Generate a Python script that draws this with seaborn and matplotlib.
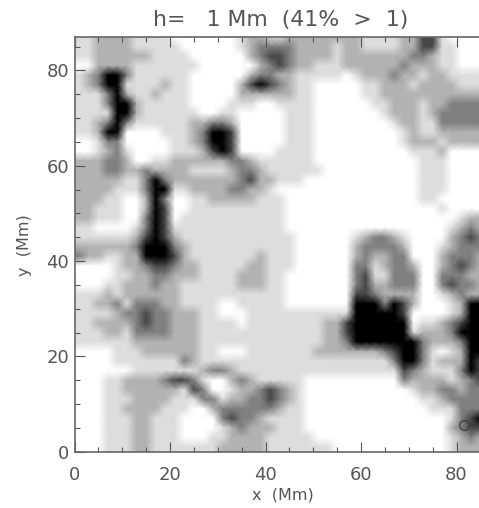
import numpy as np
import seaborn as sns
import matplotlib.pyplot as plt
from matplotlib.colors import ListedColormap

# contour level per 2 Mm cell, top row first (y=86)
level_rows = [
    "11222 21111 00000 00122 11222 22222 11112 24410 000",
    "11222 21111 10000 00123 33322 22122 11112 24411 000",
    "11222 22211 11000 00023 44322 22122 22222 33211 000",
    "00222 21111 11100 00002 34322 11122 22223 22211 000",
    "12355 31111 11000 00023 32211 11101 22232 21221 111",
    "12355 11112 11000 00245 43211 00000 11222 12222 111",
    "11135 21121 11000 00222 22211 00000 11222 22222 222",
    "11135 52111 11000 01110 01111 00000 01122 21223 333",
    "11115 52111 11100 11000 00111 00000 00122 21233 333",
    "11235 31111 11223 32000 00111 00000 00012 21133 333",
    "11255 00001 11235 54000 00111 00000 00001 21122 222",
    "00133 00000 11235 54000 00111 00000 00001 22212 222",
    "00123 10000 11124 54000 01111 00000 00000 11120 000",
    "22233 20011 22222 23321 11111 00000 00000 01110 000",
    "22233 22322 22111 12332 11111 10000 00000 01110 000",
    "22222 11353 22222 22342 21110 00000 00000 01110 000",
    "22221 11355 11222 23322 10000 00000 00000 01110 000",
    "22211 00253 00112 22221 11000 00000 00000 01100 000",
    "22111 00254 00111 11111 11000 00000 00000 00010 000",
    "22111 00354 01111 11111 11000 00000 00000 00000 122",
    "11000 01354 11111 11111 11000 00000 00000 00001 232",
    "11111 12454 21111 11111 11100 00001 23321 00002 343",
    "22222 23555 32111 11111 11100 00002 33332 00012 333",
    "32211 22555 42111 11112 11100 00002 32233 00023 332",
    "00001 22344 32211 11122 11100 00003 31233 20023 432",
    "00001 12233 22211 11222 11000 00003 41133 30033 322",
    "00011 22232 21111 11222 11000 00003 42233 30034 332",
    "11121 22222 21111 11111 11000 00004 43222 20012 322",
    "11223 13332 21111 00111 11000 00005 55354 20001 255",
    "11112 33433 22211 00011 11111 11115 55554 00001 255",
    "11222 23433 22211 11011 11111 12245 55555 01123 455",
    "11122 13333 22211 11111 11111 12245 55555 12223 555",
    "11111 12222 22211 11111 11111 12235 55555 53222 355",
    "00001 11222 22211 00011 11111 22222 22345 53101 255",
    "00001 11111 13211 11111 11111 11111 11135 53122 254",
    "00000 01111 11123 32111 11111 11111 11114 32111 354",
    "00011 22223 44310 02321 11110 00000 00003 22221 234",
    "00011 22222 21430 01223 43210 00000 00000 12233 233",
    "00011 12222 11133 12233 43210 00000 00000 01123 333",
    "00011 22221 11002 33333 32110 00000 00000 00111 333",
    "00011 12211 10000 34332 11110 00000 00000 00001 345",
    "00011 12211 10000 12322 21110 00000 00000 00002 344",
    "00011 12211 10001 12222 11111 00000 00000 00001 232",
    "00011 12211 11111 22222 11111 11000 00000 00001 222",
]
level_colors = ["#ffffff", "#dddddd", "#b2b2b2", "#808080", "#474747", "#000000"]
x_major = [0, 20, 40, 60, 80]
y_major = [0, 20, 40, 60, 80]
x_minor = [5, 10, 15, 25, 30, 35, 45, 50, 55, 65, 70, 75]
y_minor = [5, 10, 15, 25, 30, 35, 45, 50, 55, 65, 70, 75, 85]
circle_x = [81.6]
circle_y = [5.7]

text_color = "#555555"
plt.rcParams["font.family"] = ["DejaVu Sans"]

levels = np.array([[int(c) for c in row.replace(" ", "")] for row in level_rows])
levels = np.pad(levels, 1, mode="edge")


# cell centres sit on the mesh vertices with gouraud shading
def to_col(x):
    return (np.asarray(x) + 1) / 2


def to_row(y):
    return (89 - np.asarray(y)) / 2


fig = plt.figure(figsize=(4.79, 5.08), dpi=100)
ax = fig.add_axes([74.5 / 479, (508 - 451.7) / 508, 404.5 / 479, 414.7 / 508])
sns.heatmap(levels, ax=ax, cmap=ListedColormap(level_colors), vmin=-0.5, vmax=5.5,
            cbar=False, xticklabels=False, yticklabels=False, shading="gouraud")
ax.plot(to_col(circle_x), to_row(circle_y), "o", ms=7, mfc="none", mec="#333333", mew=0.8)

ax.set_xlim(to_col(0), to_col(84.7))
ax.set_ylim(to_row(0), to_row(87))

ax.set_xticks(to_col(x_major))
ax.set_xticklabels(x_major)
ax.set_yticks(to_row(y_major))
ax.set_yticklabels(y_major)
ax.set_xticks(to_col(x_minor), minor=True)
ax.set_yticks(to_row(y_minor), minor=True)
ax.tick_params(which="major", direction="in", length=7, width=0.8, color="#555555",
               labelsize=13, labelcolor=text_color, top=True, left=True, bottom=True)
ax.tick_params(which="minor", direction="in", length=3.5, width=0.8, color="#555555",
               top=True, left=True, bottom=True)
ax.tick_params(axis="x", pad=10)
ax.tick_params(axis="y", labelrotation=0, pad=4)

for side in ["top", "left", "bottom"]:
    ax.spines[side].set_visible(True)
    ax.spines[side].set_color("#666666")
    ax.spines[side].set_linewidth(1.2)
ax.spines["right"].set_visible(False)

fig.text(281 / 479, 1 - 20 / 508, "h=   1 Mm  (41%  >  1)", ha="center", va="center",
         fontsize=15.8, color=text_color)
fig.text(283 / 479, 1 - 495 / 508, "x  (Mm)", ha="center", va="center",
         fontsize=11.5, color=text_color)
fig.text(24 / 479, 1 - 245 / 508, "y  (Mm)", ha="center", va="center", rotation=90,
         fontsize=11.5, color=text_color)

fig.savefig("out.png", dpi=100)
